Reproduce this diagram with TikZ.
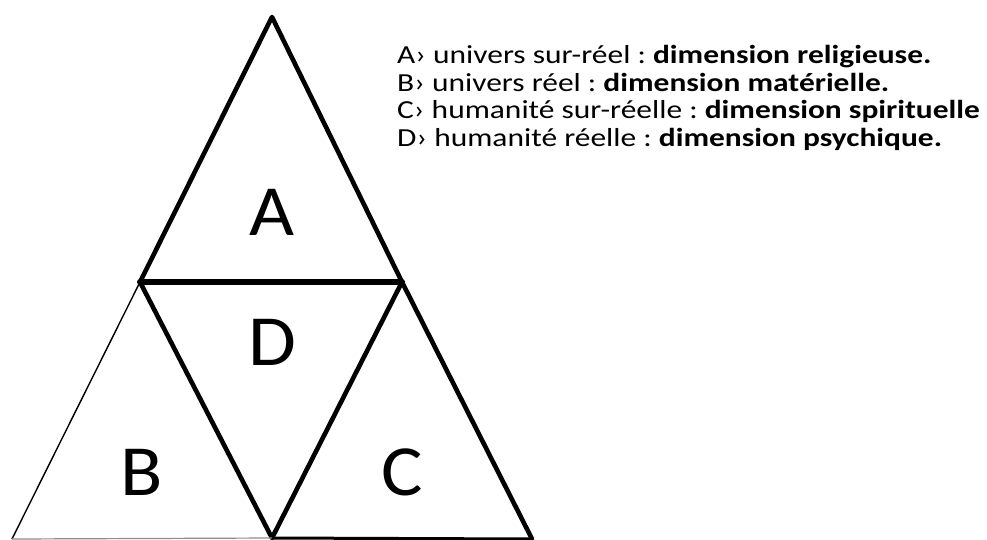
\documentclass[tikz,border=0pt]{standalone}
\usepackage{fontspec}
\setmainfont{Carlito}
\frenchspacing
\begin{document}
\begin{tikzpicture}[x=1pt,y=-1pt,
  thickedge/.style={line width=4.6pt,line cap=round,line join=round},
  midedge/.style={line width=6pt,line cap=round},
  thinedge/.style={line width=1.4pt},
  grayedge/.style={line width=1.2pt,draw=black!45},
  bigletter/.style={font=\fontsize{72}{72}\selectfont,inner sep=0pt},
  legend/.style={font=\fontsize{26}{30}\selectfont,anchor=base west,inner sep=0pt}]
\useasboundingbox (0,0) rectangle (987,539);
\coordinate (top) at (272,17);
\coordinate (ml) at (140,282);
\coordinate (mr) at (402,282);
\coordinate (bl) at (12,539);
\coordinate (bm) at (272,538);
\coordinate (br) at (532,539);
% edges
\draw[thickedge] (ml) -- (top) -- (mr);
\draw[midedge] (ml) -- (mr);
\draw[thickedge] (ml) -- (bm) -- (mr) -- (br);
\draw[thinedge] (ml) -- (bl);
\draw[grayedge] (bl) -- (bm);
\draw[line width=3pt] (bm) -- (br);
% letters
\node[bigletter] (A) at (272,212) {\scalebox{1.08}[1]{A}};
\node[bigletter] (D) at (272,342) {\scalebox{1.08}[1]{D}};
\node[bigletter] (B) at (142,472) {\scalebox{1.08}[1]{B}};
\node[bigletter] (C) at (402,472) {\scalebox{1.08}[1]{C}};
% legend
\node[legend] (la) at (397,63) {\scalebox{1.21}[1]{A› univers sur-réel : \textbf{dimension religieuse.}}};
\node[legend] (lb) at (397,91) {\scalebox{1.21}[1]{B› univers réel : \textbf{dimension matérielle.}}};
\node[legend] (lc) at (397,118) {\scalebox{1.21}[1]{C› humanité sur-réelle : \textbf{dimension spirituelle}}};
\node[legend] (ld) at (397,146) {\scalebox{1.21}[1]{D› humanité réelle : \textbf{dimension psychique.}}};
\end{tikzpicture}
\end{document}
